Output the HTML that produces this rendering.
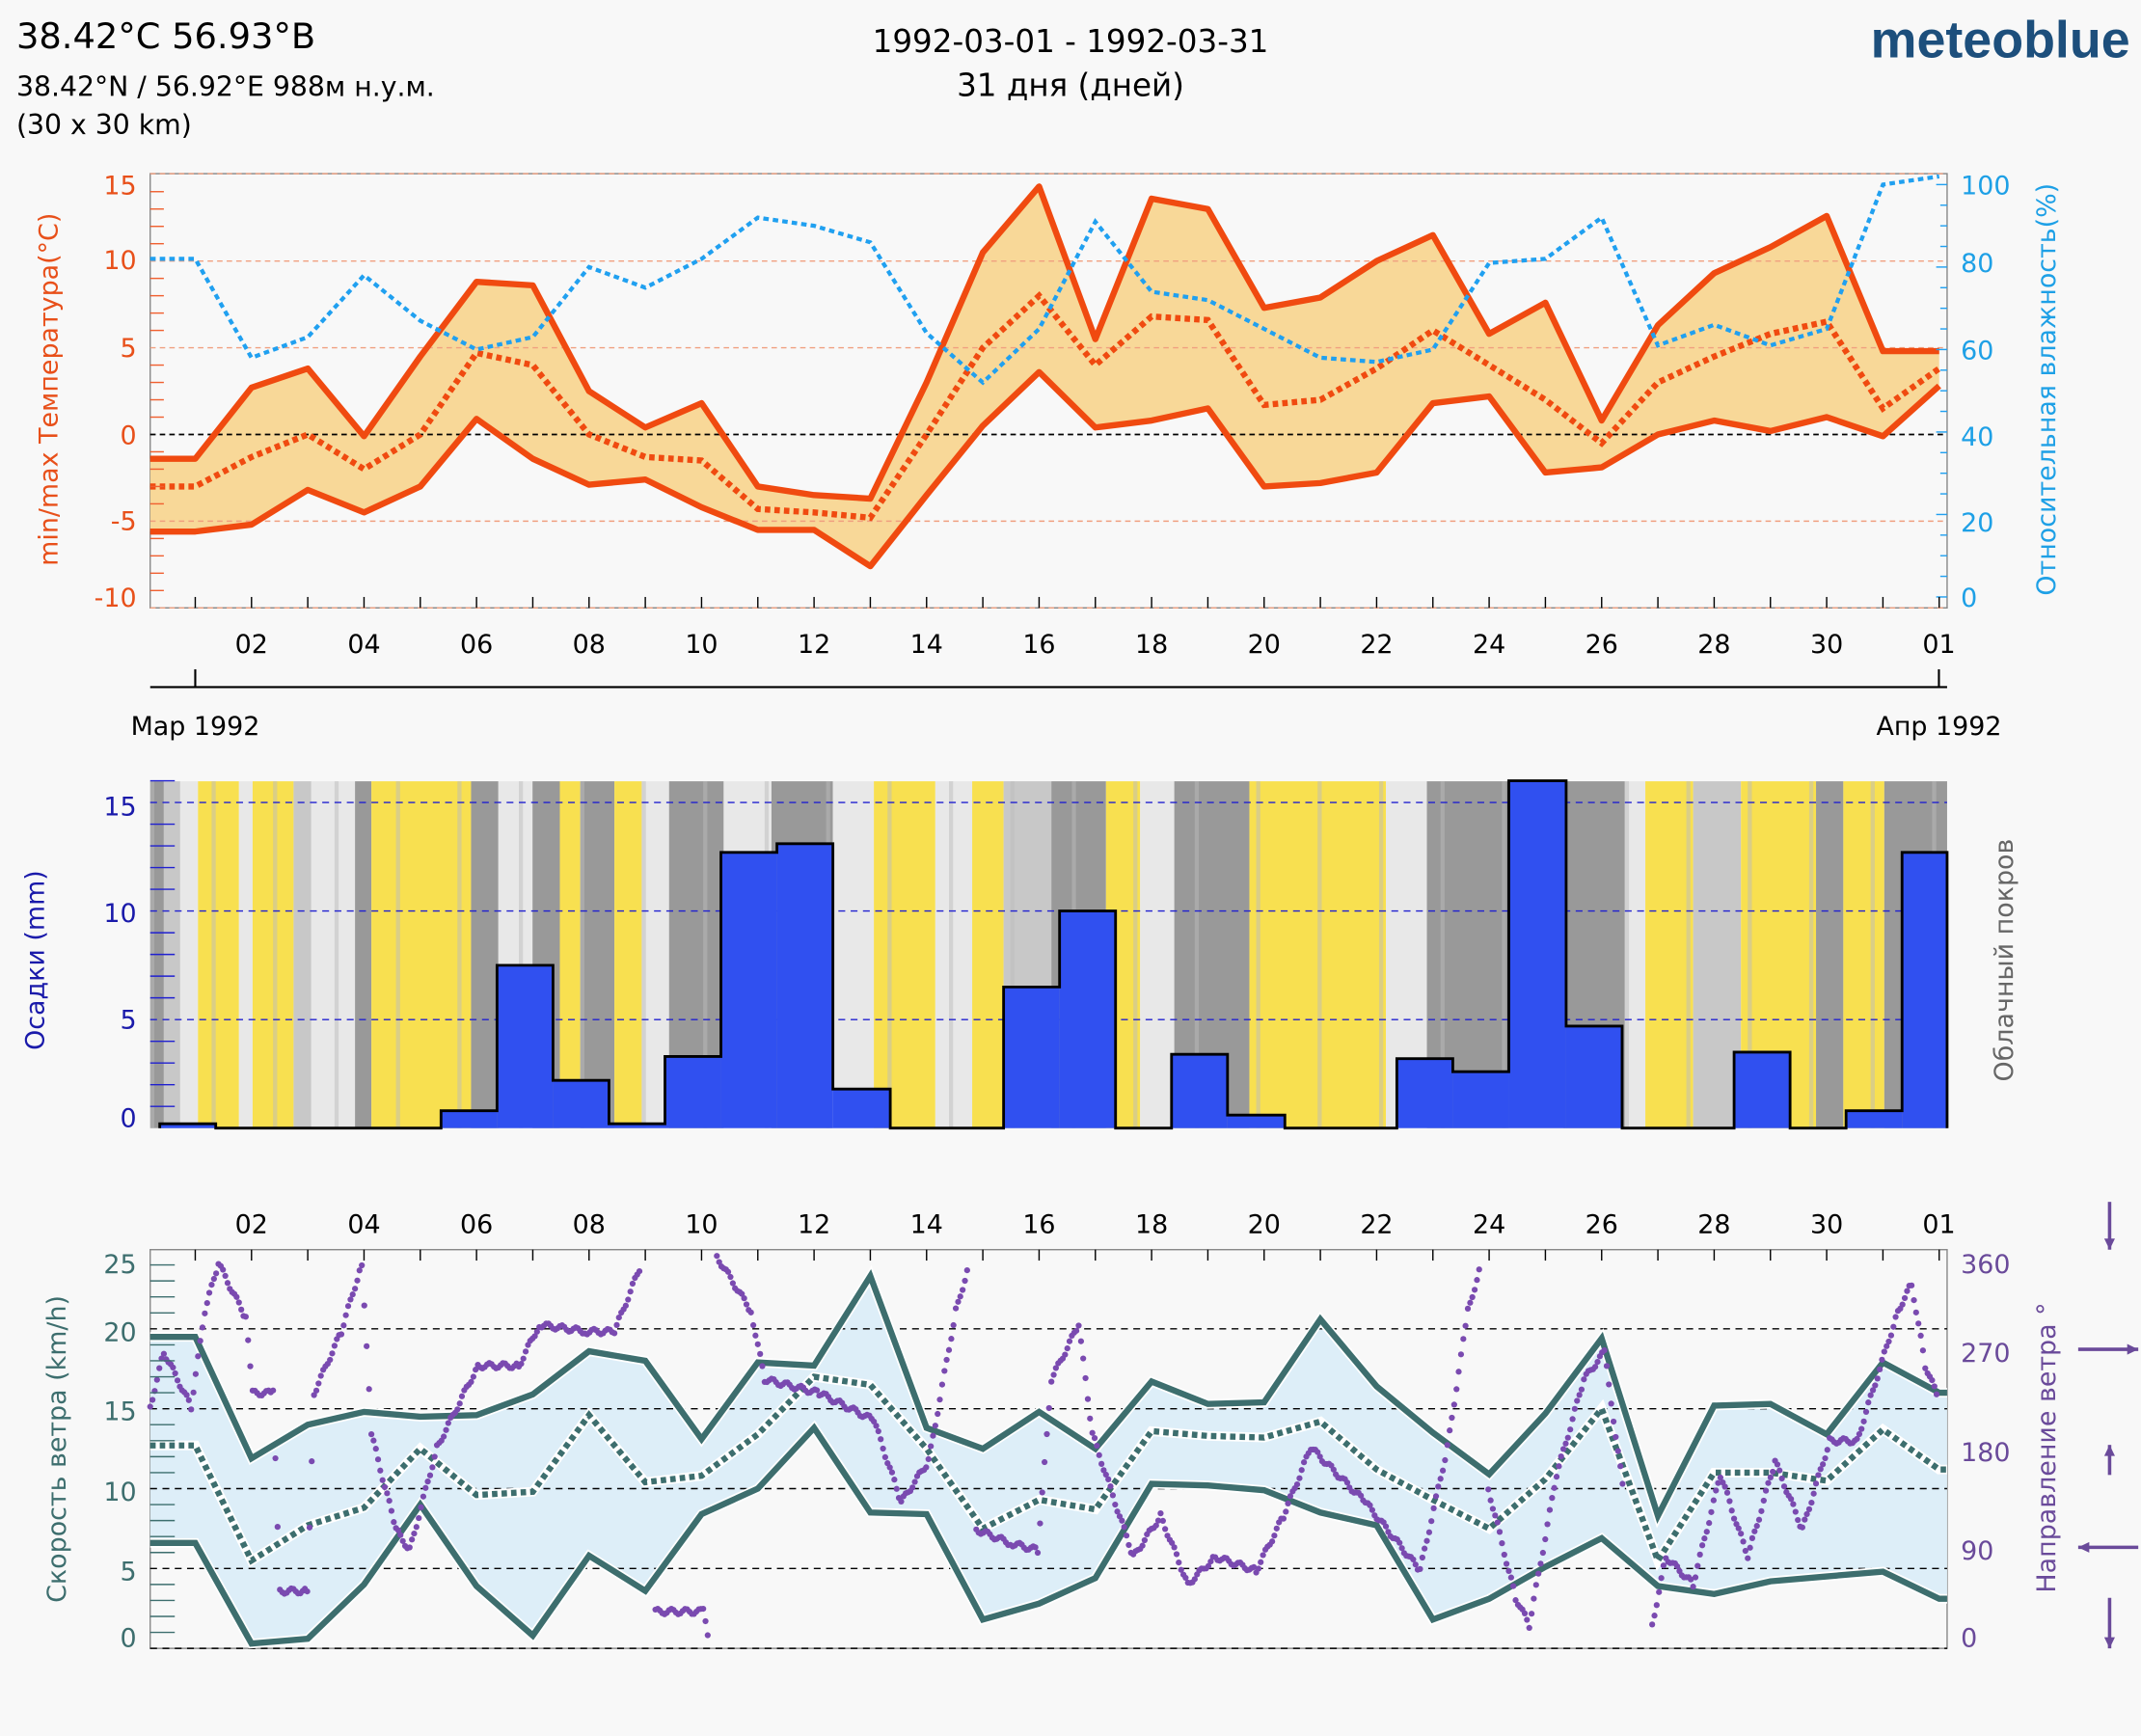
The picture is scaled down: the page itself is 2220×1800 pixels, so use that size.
<!DOCTYPE html>
<html><head><meta charset="utf-8"><style>
html,body{margin:0;padding:0;background:#f8f8f8;}
svg{display:block;font-family:"DejaVu Sans","Liberation Sans",sans-serif;}
</style></head><body>
<svg id="s" width="2220" height="1800" viewBox="0 0 1568 1271" xmlns="http://www.w3.org/2000/svg">
<rect width="1568" height="1271" fill="#f8f8f8"/>
<text x="12" y="35" font-size="26" fill="#000">38.42°C 56.93°B</text>
<text x="12" y="70" font-size="20" fill="#000">38.42°N / 56.92°E   988м н.у.м.</text>
<text x="12" y="98" font-size="20" fill="#000">(30 x 30 km)</text>
<text x="784" y="38" font-size="23" text-anchor="middle">1992-03-01 - 1992-03-31</text>
<text x="784" y="70" font-size="23" text-anchor="middle">31 дня (дней)</text>
<text x="1560" y="42" font-size="38" font-weight="bold" text-anchor="end" fill="#1d4f7c" font-family="Liberation Sans,sans-serif">meteoblue</text>
</svg>
<script>
const S=document.getElementById('s');const NS='http://www.w3.org/2000/svg';
function el(t,a,txt){const e=document.createElementNS(NS,t);for(const k in a)e.setAttribute(k,a[k]);if(txt!==undefined)e.textContent=txt;S.appendChild(e);return e;}
const X=d=>143+(d-1)*41.2;
const L=110,R=1426;
function pts(arr,fy,start){let p=[];if(start!==undefined)p.push([L,fy(start)]);arr.forEach((v,i)=>p.push([Math.min(X(i+1),R),fy(v)]));return p;}
const ps=p=>p.map(q=>q[0].toFixed(1)+','+q[1].toFixed(1)).join(' ');
// ---------- TOP TEMP ----------
const ty=t=>318-12.7*t, hy=h=>437-3.02*h;
const tmax=[-1.4,2.7,3.8,-0.1,4.5,8.8,8.6,2.5,0.4,1.8,-3.0,-3.5,-3.7,3,10.5,14.3,5.5,13.6,13.0,7.3,7.9,10.0,11.5,5.8,7.6,0.8,6.3,9.3,10.8,12.6,4.8,4.8];
const tmin=[-5.6,-5.2,-3.2,-4.5,-3,0.9,-1.4,-2.9,-2.6,-4.2,-5.5,-5.5,-7.6,-3.5,0.5,3.6,0.4,0.8,1.5,-3,-2.8,-2.2,1.8,2.2,-2.2,-1.9,0,0.8,0.2,1,-0.1,2.8];
const tmean=[-3,-1.3,0,-2,0,4.7,4,0,-1.3,-1.5,-4.3,-4.5,-4.8,0,5,8,4,6.8,6.6,1.7,2,3.8,6,4,2,-0.5,3,4.5,5.8,6.5,1.5,3.8];
const hum=[82,58,63,78,67,60,63,80,75,82,92,90,86,64,52,65,91,74,72,65,58,57,60,81,82,92,61,66,61,65,100,102];
el('rect',{x:L,y:127,width:R-L,height:318,fill:'#f8f8f8',stroke:'#888','stroke-width':1});
const pmax=pts(tmax,ty,tmax[0]),pmin=pts(tmin,ty,tmin[0]);
el('polygon',{points:ps(pmax)+' '+ps(pmin.slice().reverse()),fill:'#f8d898'});
[127,ty(10),ty(5),ty(-5),445].forEach(y=>el('line',{x1:L,x2:R,y1:y,y2:y,stroke:'#f0a080','stroke-dasharray':'4,3','stroke-width':1}));
el('line',{x1:L,x2:R,y1:ty(0),y2:ty(0),stroke:'#000','stroke-dasharray':'4,3','stroke-width':1.2});
el('polyline',{points:ps(pmax),fill:'none',stroke:'#f04a10','stroke-width':4.5,'stroke-linejoin':'round'});
el('polyline',{points:ps(pmin),fill:'none',stroke:'#f04a10','stroke-width':4.5,'stroke-linejoin':'round'});
el('polyline',{points:ps(pts(tmean,ty,tmean[0])),fill:'none',stroke:'#f04a10','stroke-width':4.5,'stroke-dasharray':'4,3'});
el('polyline',{points:ps(pts(hum,hy,82)),fill:'none',stroke:'#20a0f0','stroke-width':3,'stroke-dasharray':'4,3'});
for(let t=-10;t<=15;t++){el('line',{x1:L,x2:L+(t%5==0?0:10),y1:ty(t),y2:ty(t),stroke:'#f06030','stroke-width':1});}
for(let h=0;h<=100;h+=5){el('line',{x1:R,x2:R-(h%20==0?8:5),y1:hy(h),y2:hy(h),stroke:'#20a0f0','stroke-width':1});}
[[15,135],[10,190],[5,254],[0,318],[-5,381],[-10,437]].forEach(a=>el('text',{x:100,y:a[1]+7,'font-size':19,fill:'#e8501a','text-anchor':'end'},a[0]));
[[100,135],[80,192],[60,256],[40,319],[20,382],[0,437]].forEach(a=>el('text',{x:1436,y:a[1]+7,'font-size':19,fill:'#1ea0e6'},a[0]));
el('text',{transform:'translate(42,285) rotate(-90)','font-size':19,fill:'#e8501a','text-anchor':'middle'},'min/max Температура(°C)');
el('text',{transform:'translate(1505,285) rotate(-90)','font-size':19,fill:'#1ea0e6','text-anchor':'middle'},'Относительная влажность(%)');
for(let d=1;d<=32;d++){el('line',{x1:X(d),x2:X(d),y1:445,y2:437,stroke:'#000'});}
const labs=['02','04','06','08','10','12','14','16','18','20','22','24','26','28','30'];
labs.forEach((l,i)=>el('text',{x:X(2+2*i),y:478,'font-size':19,'text-anchor':'middle'},l));
el('text',{x:1420,y:478,'font-size':19,'text-anchor':'middle'},'01');
el('line',{x1:L,x2:R,y1:503,y2:503,stroke:'#000','stroke-width':1.5});
el('line',{x1:143,x2:143,y1:490,y2:503,stroke:'#000','stroke-width':1.5});
el('line',{x1:1420,x2:1420,y1:490,y2:503,stroke:'#000','stroke-width':1.5});
el('text',{x:143,y:538,'font-size':19,'text-anchor':'middle'},'Мар 1992');
el('text',{x:1420,y:538,'font-size':19,'text-anchor':'middle'},'Апр 1992');
// ---------- PRECIP ----------
const py=v=>826-15.9*v;
const Y='#f8e050',LG='#e8e8e8',MG='#c8c8c8',DG='#999999';
const cl=[[110,120,DG],[120,132,MG],[132,145,LG],[145,175,Y],[175,185,LG],[185,215,Y],[215,228,MG],[228,260,LG],[260,272,DG],[272,345,Y],[345,365,DG],[365,390,LG],[390,410,DG],[410,425,Y],[425,450,DG],[450,470,Y],[470,490,LG],[490,530,DG],[530,565,LG],[565,610,DG],[610,640,LG],[640,685,Y],[685,712,LG],[712,735,Y],[735,770,MG],[770,810,DG],[810,835,Y],[835,860,LG],[860,915,DG],[915,1015,Y],[1015,1045,LG],[1045,1105,DG],[1105,1145,MG],[1145,1190,DG],[1190,1205,LG],[1205,1240,Y],[1240,1275,MG],[1275,1330,Y],[1330,1350,DG],[1350,1380,Y],[1380,1426,DG]];
cl.forEach(c=>el('rect',{x:c[0],y:572,width:c[1]-c[0],height:254,fill:c[2]}));
for(let x=110;x<1426;x+=9){if((x*37)%5==0)el('rect',{x:x,y:572,width:3,height:254,fill:'#bbbbbb',opacity:0.5});}
[15,10,5].forEach(v=>el('line',{x1:L,x2:R,y1:py(v),y2:py(v),stroke:'#2020d0','stroke-dasharray':'5,4','stroke-width':1}));
const bars=[[117,158,0.2],[323,364,0.8],[364,405,7.5],[405,446,2.2],[446,487,0.2],[487,528,3.3],[528,569,12.7],[569,610,13.1],[610,652,1.8],[735,776,6.5],[776,817,10],[858,899,3.4],[899,941,0.6],[1023,1064,3.2],[1064,1105,2.6],[1105,1147,16],[1147,1188,4.7],[1270,1311,3.5],[1352,1393,0.8],[1393,1426,12.7]];
let path='M117,826';let lastX=117;
bars.forEach(b=>{if(b[0]>lastX)path+=` L${lastX},826 L${b[0]},826`;path+=` L${b[0]},${py(b[2])} L${b[1]},${py(b[2])}`;lastX=b[1];});
path+=` L${lastX},826`;
bars.forEach(b=>el('rect',{x:b[0],y:py(b[2]),width:b[1]-b[0],height:826-py(b[2]),fill:'#3050f0'}));
el('path',{d:path,fill:'none',stroke:'#000','stroke-width':2});
for(let v=0;v<=16;v++)el('line',{x1:L,x2:L+(v%5==0?0:18),y1:py(v),y2:py(v),stroke:'#2020d0','stroke-width':1});
[[15,590],[10,668],[5,746],[0,818]].forEach(a=>el('text',{x:100,y:a[1]+7,'font-size':19,fill:'#1a1aaa','text-anchor':'end'},a[0]));
el('text',{transform:'translate(32,703) rotate(-90)','font-size':19,fill:'#1a1aaa','text-anchor':'middle'},'Осадки (mm)');
el('text',{transform:'translate(1474,703) rotate(-90)','font-size':19,fill:'#666','text-anchor':'middle'},'Облачный покров');
// ---------- WIND ----------
const wy=v=>1207-11.7*v;
const wmax=[19.5,11.9,14,14.8,14.5,14.6,15.9,18.6,18,13.1,17.9,17.7,23.3,13.8,12.5,14.8,12.5,16.7,15.3,15.4,20.6,16.4,13.5,10.9,14.7,19.4,8.3,15.2,15.3,13.4,17.9,16];
const wmin=[6.6,0.3,0.6,4,9,3.9,0.8,5.8,3.6,8.4,10,13.8,8.5,8.4,1.8,2.8,4.4,10.3,10.2,9.9,8.5,7.7,1.8,3.1,5.1,6.9,3.9,3.4,4.2,4.5,4.8,3.1];
const wmean=[12.7,5.5,7.7,8.8,12.5,9.6,9.8,14.6,10.4,10.8,13.4,17,16.5,12.5,7.5,9.3,8.7,13.6,13.3,13.2,14.2,11.2,9.3,7.5,10.6,15,5.5,11,11,10.5,13.7,11.2];
el('rect',{x:L,y:915,width:R-L,height:292,fill:'#f8f8f8',stroke:'#888'});
const qmax=pts(wmax,wy,wmax[0]);qmax.push([R,wy(16)]);const qmin=pts(wmin,wy,wmin[0]);qmin.push([R,wy(3.1)]);
const qmean=pts(wmean,wy,wmean[0]);qmean.push([R,wy(11.2)]);
el('polygon',{points:ps(qmax)+' '+ps(qmin.slice().reverse()),fill:'#ddeef8'});
[20,15,10,5].forEach(v=>el('line',{x1:L,x2:R,y1:wy(v),y2:wy(v),stroke:'#000','stroke-dasharray':'5,4','stroke-width':1}));
el('line',{x1:L,x2:R,y1:1207,y2:1207,stroke:'#000','stroke-dasharray':'5,4','stroke-width':1});
[qmax,qmin].forEach(q=>{el('polyline',{points:ps(q),fill:'none',stroke:'#fff','stroke-width':7});el('polyline',{points:ps(q),fill:'none',stroke:'#3d6e6e','stroke-width':4.5});});
el('polyline',{points:ps(qmean),fill:'none',stroke:'#fff','stroke-width':7});
el('polyline',{points:ps(qmean),fill:'none',stroke:'#3d6e6e','stroke-width':4.5,'stroke-dasharray':'4,3'});
const dk=[[110,1030],[120,990],[140,1030],[150,960],[160,925],[180,965],[185,1020],[200,1020],[205,1165],[225,1165],[230,1020],[250,975],[265,925],[272,1050],[290,1120],[300,1135],[320,1060],[350,1000],[380,1000],[395,970],[430,975],[450,975],[470,925],[480,1180],[515,1180],[520,1205],[525,920],[550,960],[560,1010],[600,1020],[640,1040],[660,1100],[680,1070],[700,960],[710,925],[715,1120],[740,1130],[760,1135],[770,1010],[790,970],[800,1050],[830,1140],[850,1110],[870,1160],[890,1140],[920,1150],[940,1110],[960,1060],[1000,1100],[1040,1150],[1060,1060],[1075,960],[1085,925],[1090,1090],[1110,1170],[1120,1190],[1140,1080],[1160,1010],[1175,990],[1190,1100],[1200,930],[1210,1190],[1220,1140],[1240,1160],[1260,1080],[1280,1140],[1300,1070],[1320,1120],[1340,1055],[1360,1055],[1390,960],[1400,940],[1410,1000],[1420,1025]];
let g='';
for(let i=0;i<dk.length-1;i++){const a=dk[i],b=dk[i+1];const n=Math.max(1,Math.round((b[0]-a[0])/1.7));
 if(Math.abs(b[1]-a[1])>150&&b[0]-a[0]<12)continue;
 for(let k=0;k<n;k++){const t=k/n;g+=`<circle cx="${(a[0]+(b[0]-a[0])*t).toFixed(1)}" cy="${(a[1]+(b[1]-a[1])*t+Math.sin(i*7+k)*2).toFixed(1)}" r="2.2"/>`;}}
const gg=el('g',{fill:'#7a4ab0'});gg.innerHTML=g;
for(let v=0;v<=25;v++)el('line',{x1:L,x2:L+(v%5==0?0:18),y1:wy(v),y2:wy(v),stroke:'#3d6e6e','stroke-width':1});
[[25,925],[20,975],[15,1033],[10,1092],[5,1150],[0,1199]].forEach(a=>el('text',{x:100,y:a[1]+7,'font-size':19,fill:'#3d6e6e','text-anchor':'end'},a[0]));
[[360,925],[270,990],[180,1063],[90,1135],[0,1199]].forEach(a=>el('text',{x:1436,y:a[1]+7,'font-size':19,fill:'#6a4a9a'},a[0]));
el('text',{transform:'translate(48,1061) rotate(-90)','font-size':19,fill:'#3d6e6e','text-anchor':'middle'},'Скорость ветра (km/h)');
el('text',{transform:'translate(1505,1060) rotate(-90)','font-size':19,fill:'#6a4a9a','text-anchor':'middle'},'Направление ветра °');
labs.forEach((l,i)=>el('text',{x:X(2+2*i),y:903,'font-size':19,'text-anchor':'middle'},l));
el('text',{x:1420,y:903,'font-size':19,'text-anchor':'middle'},'01');
for(let d=1;d<=32;d++){el('line',{x1:X(d),x2:X(d),y1:915,y2:923,stroke:'#000'});}
const ac='#6a4a9a';
function arr(x1,y1,x2,y2){el('line',{x1,y1,x2,y2,stroke:ac,'stroke-width':2.5});const ang=Math.atan2(y2-y1,x2-x1);const h=9;
el('polygon',{points:`${x2},${y2} ${x2-h*Math.cos(ang-0.45)},${y2-h*Math.sin(ang-0.45)} ${x2-h*Math.cos(ang+0.45)},${y2-h*Math.sin(ang+0.45)}`,fill:ac});}
arr(1545,880,1545,915);arr(1522,988,1566,988);arr(1545,1080,1545,1058);arr(1566,1133,1522,1133);arr(1545,1170,1545,1207);
</script>
</body></html>
